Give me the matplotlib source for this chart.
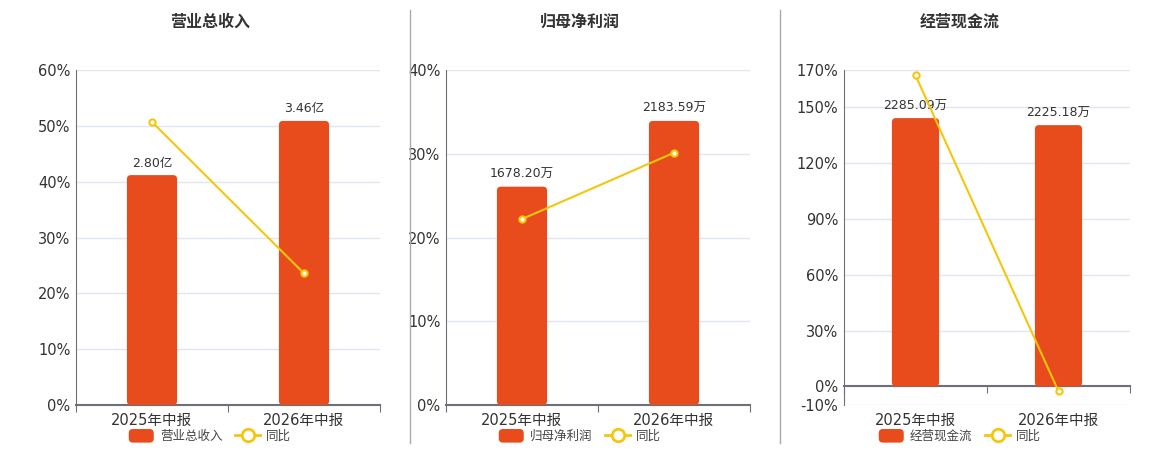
import matplotlib
matplotlib.use("Agg")
import matplotlib.pyplot as plt
from matplotlib.lines import Line2D
from matplotlib.patches import Patch, FancyBboxPatch
from matplotlib.legend_handler import HandlerPatch

plt.rcParams['font.family'] = ['DejaVu Sans', 'Noto Sans CJK SC']

# data
periods = ['2025年中报', '2026年中报']
titles = ['营业总收入', '归母净利润', '经营现金流']
bar_values = [[2.80, 3.46], [1678.20, 2183.59], [2285.09, 2225.18]]
bar_labels = [['2.80亿', '3.46亿'], ['1678.20万', '2183.59万'], ['2285.09万', '2225.18万']]
yoy = [[50.7, 23.57], [22.2, 30.12], [167.1, -2.62]]
y_ticks = [[0, 10, 20, 30, 40, 50, 60],
           [0, 10, 20, 30, 40],
           [-10, 0, 30, 60, 90, 120, 150, 170]]

bar_color = '#e84c1d'
line_color = '#f4c60c'
axis_color = '#6e7079'
grid_color = '#e0e6f1'
text_color = '#333333'

W, H = 1160, 450
fig = plt.figure(figsize=(W / 100, H / 100), dpi=100)

# axes rectangles in pixels: left, right
ax_px = [(76, 380), (446, 750), (844, 1130)]
centers = [210, 580, 960]
top_px, bot_px = 70, 405


def rounded_patch(legend, orig_handle, xdescent, ydescent, width, height, fontsize):
    return FancyBboxPatch((-xdescent, -ydescent), width, height,
                          boxstyle='round,pad=0,rounding_size=3')


for i in range(3):
    l, r = ax_px[i]
    rect = [l / W, 1 - bot_px / H, (r - l) / W, (bot_px - top_px) / H]
    ax = fig.add_axes(rect)
    ticks = y_ticks[i]
    ymin, ymax = ticks[0], ticks[-1]
    x = list(range(len(periods)))

    # percent axis with grid
    ax.set_xlim(-0.5, 1.5)
    ax.set_ylim(ymin, ymax)
    ax.set_yticks(ticks)
    ax.set_yticklabels([f'{t}%' for t in ticks])
    ax.tick_params(axis='y', length=0, pad=4, labelsize=10.5, labelcolor=text_color)
    ax.grid(axis='y', color=grid_color, linewidth=1)
    ax.set_axisbelow(True)
    for s in ['top', 'right']:
        ax.spines[s].set_visible(False)
    ax.spines['left'].set_color(axis_color)
    ax.spines['bottom'].set_color(axis_color)
    ax.spines['bottom'].set_linewidth(1.5)
    ax.spines['bottom'].set_position(('data', 0))
    ax.set_xticks([-0.5, 0.5, 1.5])
    ax.set_xticklabels([])
    ax.tick_params(axis='x', length=5, color=axis_color, direction='out')
    for xi, p in zip(x, periods):
        ax.text(xi, -0.045, p, transform=ax.get_xaxis_transform(), ha='center',
                va='center', fontsize=10.5, color=text_color)

    # bars on hidden axis, with rounded corners
    axb = ax.twinx()
    vmax = max(bar_values[i])
    btop = vmax / 0.848
    bmin = btop * ymin / ymax
    axb.set_ylim(bmin, btop)
    bars = axb.bar(x, bar_values[i], width=0.33, color=bar_color)
    x_per_px = 2.0 / (r - l)
    y_per_px = (btop - bmin) / (bot_px - top_px)
    for b in bars:
        b.set_visible(False)
        fb = FancyBboxPatch((b.get_x(), b.get_y()), b.get_width(), b.get_height(),
                            boxstyle=f'round,pad=0,rounding_size={4 * x_per_px}',
                            mutation_aspect=y_per_px / x_per_px,
                            facecolor=bar_color, edgecolor='none')
        axb.add_patch(fb)
    axb.bar_label(bars, labels=bar_labels[i], padding=4, fontsize=9, color=text_color)
    axb.axis('off')

    # yoy line on its own axis
    axl = ax.twinx()
    axl.set_ylim(ymin, ymax)
    axl.plot(x, yoy[i], color=line_color, linewidth=1.5, marker='o', markersize=4.5,
             markerfacecolor='white', markeredgecolor=line_color, markeredgewidth=1.5,
             clip_on=False)
    axl.axis('off')

    fig.text(centers[i] / W, 1 - 22 / H, titles[i], ha='center', va='center',
             fontsize=11.5, fontweight='bold', color=text_color)

    handles = [Patch(facecolor=bar_color, edgecolor='none'),
               Line2D([0], [0], color=line_color, linewidth=2, marker='o', markersize=9,
                      markerfacecolor='white', markeredgecolor=line_color, markeredgewidth=2)]
    fig.legend(handles, [titles[i], '同比'], loc='center', ncol=2, frameon=False,
               bbox_to_anchor=(centers[i] / W, 1 - 436 / H), fontsize=9,
               handlelength=2.0, handleheight=1.3, handletextpad=0.5, columnspacing=1.0,
               labelcolor='#444444',
               handler_map={Patch: HandlerPatch(patch_func=rounded_patch)})

# separators between panels
for xs in [410, 780]:
    fig.add_artist(Line2D([xs / W, xs / W], [1 - 443 / H, 1 - 10 / H],
                          color='#aaaaaa', linewidth=1))

fig.savefig('out.png', dpi=100)
